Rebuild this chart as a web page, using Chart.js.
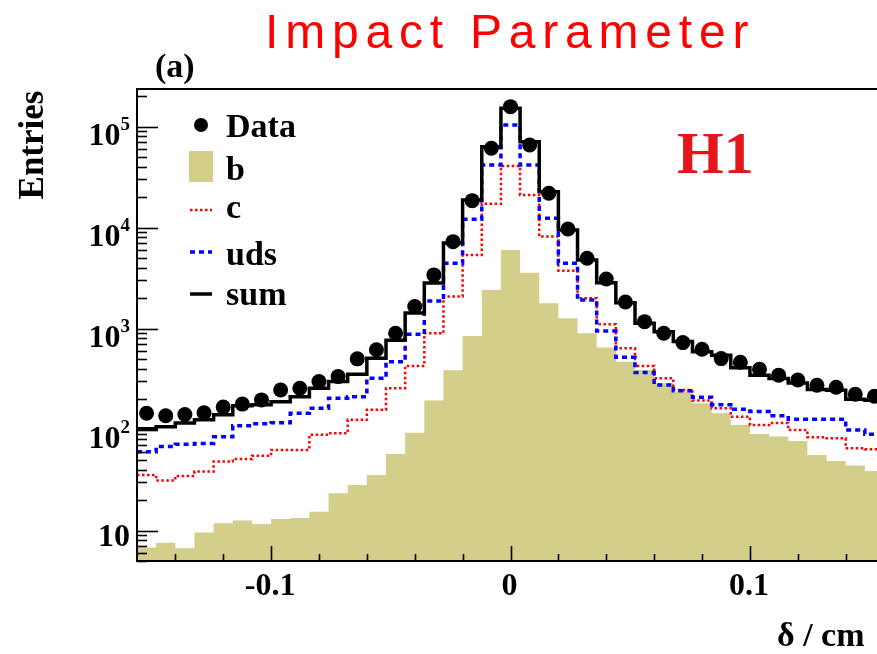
<!DOCTYPE html>
<html>
<head>
<meta charset="utf-8">
<script src="https://cdn.jsdelivr.net/npm/chart.js@4/dist/chart.umd.min.js"></script>
<style>
  html, body { margin: 0; padding: 0; overflow: hidden; background: #fff; width: 877px; height: 654px; }
  #wrap { position: relative; width: 900px; height: 654px; }
</style>
</head>
<body>
<div id="wrap"><canvas id="chart" width="900" height="654"></canvas></div>
<script>
// Histogram binning: 39 bins of 0.008 cm, centred on zero
const binLow = -0.156;
const binWidth = 0.008;

// Entries per bin
const dataVals = [145, 137, 141, 147, 167, 179, 197, 247, 257, 299, 335, 502, 617, 900, 1652, 3404, 7266, 18500, 61100, 157800,
  65900, 21900, 9710, 4980, 3105, 1837, 1173, 900, 727, 625, 505, 465, 396, 346, 310, 275, 263, 224, 214];
const sumVals = [102, 107, 116, 125, 140, 172, 176, 189, 212, 257, 299, 353, 509, 769, 1430, 2830, 7050, 18800, 63400, 152000,
  71000, 22700, 9490, 4790, 2850, 1800, 1130, 930, 745, 590, 545, 410, 345, 320, 290, 250, 245, 200, 195];
const bVals = [6.8, 7.6, 6.7, 9.6, 11.8, 12.6, 11.6, 13.0, 13.3, 15.4, 23.4, 28.3, 35.6, 57.4, 93, 194, 387, 847, 2415, 6020,
  3580, 1783, 1268, 900, 649, 471, 390, 288, 238, 182, 145, 111, 90.6, 85.3, 77.2, 56.2, 49, 44, 38.9];
const cVals = [35.6, 31.3, 34.8, 38.4, 48.2, 51.3, 55, 63, 63, 88.7, 92, 125, 157, 257, 427, 900, 2075, 5370, 17200, 40800,
  21100, 8150, 3750, 2000, 1104, 638, 427, 323, 247, 194, 163, 134, 111, 116, 99, 84, 82, 65.5, 64];
const udsVals = [60.5, 68, 71.6, 73, 85, 109, 114, 117, 145, 163, 205, 212, 323, 471, 881, 1880, 4440, 12100, 41800, 104000,
  41800, 12400, 4440, 1923, 948, 521, 367, 277, 242, 209, 176, 159, 151, 137, 127, 127, 127, 99, 90];

// Axis ticks and labels
const xTickValues = [-0.1, 0, 0.1];
const xTickLabels = ['-0.1', '0', '0.1'];
const yTickValues = [10, 100, 1000, 10000, 100000];
const yTickExponents = ['', '2', '3', '4', '5'];

// Legend entries
const legendLabels = ['Data', 'b', 'c', 'uds', 'sum'];

const colB = '#d3ce89';
const colC = '#ff0000';
const colUds = '#0000ff';

// Step outline through bin edges (last edge repeats the final bin value)
function stepPoints(vals) {
  const pts = vals.map((v, i) => ({ x: binLow + i * binWidth, y: v }));
  pts.push({ x: binLow + vals.length * binWidth, y: vals[vals.length - 1] });
  return pts;
}
function centrePoints(vals) {
  return vals.map((v, i) => ({ x: binLow + (i + 0.5) * binWidth, y: v }));
}

const SERIF = '"Liberation Serif", "Times New Roman", serif';

const decorations = {
  id: 'decorations',
  afterDraw(chart) {
    const ctx = chart.ctx;
    const { left, right, top, bottom } = chart.chartArea;
    const xs = chart.scales.x, ys = chart.scales.y;
    ctx.save();

    // frame
    ctx.strokeStyle = '#000';
    ctx.lineWidth = 2;
    ctx.strokeRect(left, top, right - left, bottom - top);

    // y ticks (inside the frame)
    ctx.lineWidth = 1.6;
    for (let e = 0; e <= 5; e++) {
      for (let m = 1; m <= 9; m++) {
        const v = m * Math.pow(10, e);
        if (v < ys.min || v > ys.max) continue;
        const py = Math.round(ys.getPixelForValue(v)) + 0.5;
        const len = m === 1 ? 21 : 10;
        ctx.beginPath(); ctx.moveTo(left, py); ctx.lineTo(left + len, py); ctx.stroke();
      }
    }
    // x ticks (inside the frame)
    for (let k = -7; k <= 7; k++) {
      const v = k * 0.02;
      const px = Math.round(xs.getPixelForValue(v)) + 0.5;
      const len = (k % 5 === 0) ? 15 : 7;
      ctx.beginPath(); ctx.moveTo(px, bottom); ctx.lineTo(px, bottom - len); ctx.stroke();
    }

    ctx.fillStyle = '#000';
    // y tick labels: 10, 10^2 ... 10^5
    yTickValues.forEach((v, i) => {
      const py = ys.getPixelForValue(v);
      const exp = yTickExponents[i];
      ctx.textAlign = 'right';
      ctx.textBaseline = 'alphabetic';
      if (exp) {
        ctx.font = 'bold 19px ' + SERIF;
        const ew = ctx.measureText(exp).width;
        ctx.fillText(exp, 130, py + 3);
        ctx.font = 'bold 32px ' + SERIF;
        ctx.fillText('10', 130 - ew, py + 18);
      } else {
        ctx.font = 'bold 32px ' + SERIF;
        ctx.fillText('10', 130, py + 15);
      }
    });
    // x tick labels
    ctx.font = 'bold 32px ' + SERIF;
    ctx.textAlign = 'center';
    xTickValues.forEach((v, i) => {
      ctx.fillText(xTickLabels[i], xs.getPixelForValue(v) - 1, 595);
    });

    // axis titles
    ctx.textAlign = 'left';
    ctx.font = 'bold 34px ' + SERIF;
    ctx.fillText('\u03b4 / cm', 777, 646);
    ctx.save();
    ctx.translate(43, 145);
    ctx.rotate(-Math.PI / 2);
    ctx.textAlign = 'center';
    ctx.font = 'bold 35px ' + SERIF;
    ctx.fillText('Entries', 0, 0);
    ctx.restore();

    // panel tag
    ctx.textAlign = 'left';
    ctx.font = 'bold 34px ' + SERIF;
    ctx.fillText('(a)', 155, 77);

    // experiment label
    ctx.fillStyle = '#e3161b';
    ctx.font = 'bold 60px ' + SERIF;
    ctx.fillText('H1', 677, 173);

    // title
    ctx.fillStyle = '#ff0000';
    ctx.font = '48px "Liberation Sans", Arial, sans-serif';
    ctx.letterSpacing = '6.8px';
    ctx.fillText('Impact Parameter', 265, 48);
    ctx.letterSpacing = '0px';

    // legend
    const rowY = [125, 166, 210, 252, 294];
    const mx0 = 190, mx1 = 212, tx = 226;
    // Data marker
    ctx.fillStyle = '#000';
    ctx.beginPath(); ctx.arc(201, rowY[0], 7, 0, Math.PI * 2); ctx.fill();
    // b box
    ctx.fillStyle = colB;
    ctx.fillRect(189, 151, 24, 31);
    // c dotted
    ctx.lineWidth = 2.5;
    ctx.strokeStyle = colC; ctx.setLineDash([2.5, 2.5]);
    ctx.beginPath(); ctx.moveTo(mx0, rowY[2]); ctx.lineTo(mx1, rowY[2]); ctx.stroke();
    // uds dashed
    ctx.lineWidth = 3.5;
    ctx.strokeStyle = colUds; ctx.setLineDash([5, 4]);
    ctx.beginPath(); ctx.moveTo(mx0, rowY[3]); ctx.lineTo(mx1, rowY[3]); ctx.stroke();
    // sum solid
    ctx.strokeStyle = '#000'; ctx.setLineDash([]);
    ctx.beginPath(); ctx.moveTo(mx0, rowY[4]); ctx.lineTo(mx1, rowY[4]); ctx.stroke();

    ctx.fillStyle = '#000';
    ctx.font = 'bold 34px ' + SERIF;
    ctx.textAlign = 'left';
    const baseOff = [12, 14, 8, 13, 11];
    legendLabels.forEach((t, i) => ctx.fillText(t, tx, rowY[i] + baseOff[i]));

    ctx.restore();
  }
};

new Chart(document.getElementById('chart'), {
  type: 'line',
  data: {
    datasets: [
      { label: 'Data', data: centrePoints(dataVals), showLine: false, pointRadius: 7.5,
        pointBackgroundColor: '#000', pointBorderWidth: 0, order: 0 },
      { label: 'sum', data: stepPoints(sumVals), stepped: 'before', borderColor: '#000',
        borderWidth: 3.5, pointRadius: 0, fill: false, order: 1 },
      { label: 'uds', data: stepPoints(udsVals), stepped: 'before', borderColor: colUds,
        borderWidth: 3.5, borderDash: [5, 4], pointRadius: 0, fill: false, order: 2 },
      { label: 'c', data: stepPoints(cVals), stepped: 'before', borderColor: colC,
        borderWidth: 2.5, borderDash: [2.5, 2.5], pointRadius: 0, fill: false, order: 3 },
      { label: 'b', data: stepPoints(bVals), stepped: 'before', borderColor: colB,
        borderWidth: 0, backgroundColor: colB, pointRadius: 0, fill: 'start', order: 4 }
    ]
  },
  options: {
    responsive: false,
    animation: false,
    devicePixelRatio: 1,
    layout: { padding: { left: 137, top: 89, right: 16, bottom: 93 } },
    plugins: { legend: { display: false }, tooltip: { enabled: false }, title: { display: false } },
    scales: {
      x: { type: 'linear', min: -0.156, max: 0.156, display: false },
      y: { type: 'logarithmic', min: 5, max: 236000, display: false }
    }
  },
  plugins: [decorations]
});
</script>
</body>
</html>
